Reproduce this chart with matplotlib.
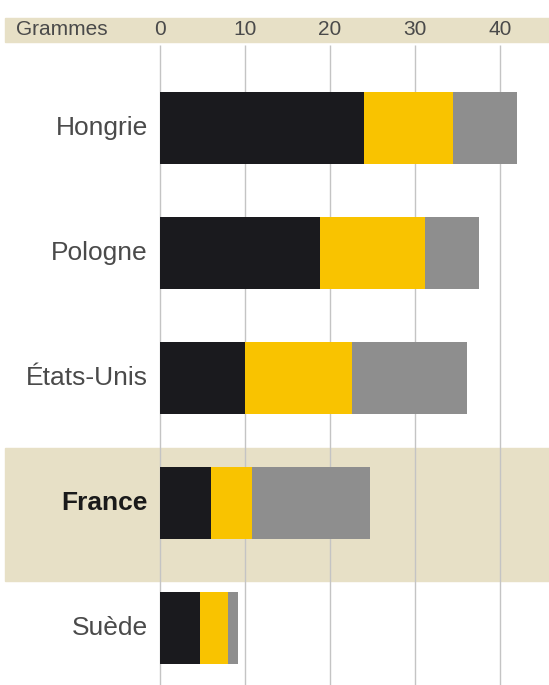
import matplotlib.pyplot as plt
from matplotlib.patches import Rectangle

plt.rcParams['font.family'] = ['Liberation Sans Narrow', 'Liberation Sans', 'DejaVu Sans']

# données (grammes)
pays = ["Hongrie", "Pologne", "États-Unis", "France", "Suède"]
noir = [24.0, 18.8, 10.0, 6.0, 4.7]
jaune = [10.5, 12.4, 12.6, 4.8, 3.3]
gris = [7.5, 6.4, 13.5, 13.9, 1.2]
ticks = [0, 10, 20, 30, 40]

c_noir = "#1a1a1e"
c_jaune = "#f9c300"
c_gris = "#8e8e8e"
c_beige = "#e7e0c6"

fig = plt.figure(figsize=(5.49, 6.85), dpi=100)
ax = fig.add_axes([0, 0, 1, 1])
ax.set_xlim(-18.8, 45.8)
ax.set_ylim(4.456, -1.024)
ax.axis("off")

# bandeau d'en-tête
ax.add_patch(Rectangle((-18.2, -0.88), 70, 0.192, color=c_beige, zorder=0))
ax.text(-16.9, -0.784, "Grammes", ha="left", va="center", fontsize=15, color="#4a4a4a")
for t in ticks:
    ax.text(t, -0.784, str(t), ha="center", va="center", fontsize=15, color="#4a4a4a")

# surlignage France
i_fr = pays.index("France")
ax.add_patch(Rectangle((-18.2, i_fr - 0.44), 70, 1.064, color=c_beige, zorder=0))

# grille
ax.vlines(ticks, -0.66, 4.456, color="#c4c4c4", lw=1, zorder=1)

y = list(range(len(pays)))
h = 0.58
ax.barh(y, noir, height=h, color=c_noir, zorder=2)
ax.barh(y, jaune, height=h, left=noir, color=c_jaune, zorder=2)
gauche = [a + b for a, b in zip(noir, jaune)]
ax.barh(y, gris, height=h, left=gauche, color=c_gris, zorder=2)

for i, p in enumerate(pays):
    gras = p == "France"
    ax.text(-1.4, i, p, ha="right", va="center", fontsize=19,
            fontweight="bold" if gras else "normal",
            color="#1a1a1a" if gras else "#4a4a4a")

plt.savefig("out.png", dpi=100)
